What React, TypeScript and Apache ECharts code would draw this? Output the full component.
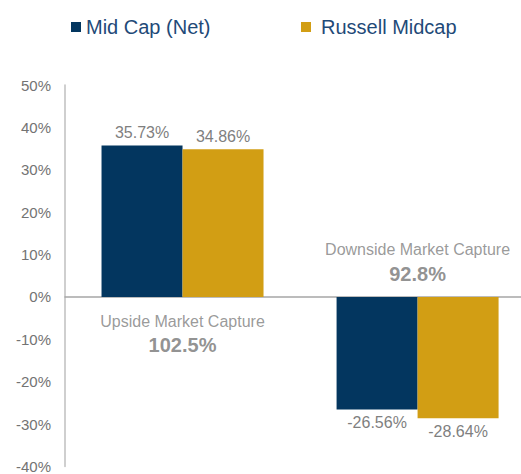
import React, { useEffect, useRef } from "react";
import * as echarts from "echarts";

const categories = ["Upside", "Downside"];
const midCapNet = [35.73, -26.56];
const russellMidcap = [34.86, -28.64];
const captureTitles = ["Upside Market Capture", "Downside Market Capture"];
const captureValues = ["102.5%", "92.8%"];
const captureLabelY = [-8.6, 8.3];
const yMin = -40;
const yMax = 50;
const yInterval = 10;

const FONT = "'Liberation Sans', Arial, sans-serif";

function barData(values: number[]) {
  return values.map((v, i) => ({
    value: [i, v],
    label: { position: v < 0 ? "bottom" : "top" },
  }));
}

export default function App() {
  const ref = useRef<HTMLDivElement>(null);
  useEffect(() => {
    if (!ref.current) return;
    const chart = echarts.init(ref.current, undefined, { renderer: "svg" });
    const labelCommon = {
      show: true,
      formatter: (p: any) => p.value[1].toFixed(2) + "%",
      color: "#7f7f7f",
      fontSize: 16,
      fontFamily: FONT,
      distance: 5,
    };
    chart.setOption({
      animation: false,
      textStyle: { fontFamily: FONT },
      legend: [
        {
          data: ["Mid Cap (Net)"],
          left: 71,
          top: 17,
          padding: 0,
          itemWidth: 10,
          itemHeight: 10,
          icon: "rect",
          textStyle: { color: "#1f4a78", fontSize: 20, fontFamily: FONT },
        },
        {
          data: ["Russell Midcap"],
          left: 301,
          top: 17,
          padding: 0,
          itemWidth: 10,
          itemHeight: 10,
          icon: "rect",
          formatter: "{a|{name}}",
          textStyle: {
            color: "#1f4a78",
            fontSize: 20,
            fontFamily: FONT,
            rich: {
              a: { padding: [0, 0, 0, 5], color: "#1f4a78", fontSize: 20, fontFamily: FONT },
            },
          },
        },
      ],
      grid: { left: 65, top: 85, right: 0, bottom: 4.5, containLabel: false },
      xAxis: {
        type: "value",
        min: -0.5,
        max: 1.44,
        axisLine: { show: true, onZero: true, lineStyle: { color: "#a6a6a6", width: 1.5 } },
        axisTick: { show: false },
        axisLabel: { show: false },
        splitLine: { show: false },
      },
      yAxis: {
        type: "value",
        min: yMin,
        max: yMax,
        interval: yInterval,
        axisLine: { show: true, onZero: false, lineStyle: { color: "#bfbfbf", width: 1.5 } },
        axisTick: { show: false },
        splitLine: { show: false },
        axisLabel: {
          formatter: "{value}%",
          color: "#737373",
          fontSize: 15,
          fontFamily: FONT,
          margin: 14,
        },
      },
      series: [
        {
          name: "Mid Cap (Net)",
          type: "bar",
          data: barData(midCapNet),
          barWidth: 81,
          barGap: "0%",
          itemStyle: { color: "#03365f" },
          label: labelCommon,
        },
        {
          name: "Russell Midcap",
          type: "bar",
          data: barData(russellMidcap),
          barWidth: 81,
          barGap: "0%",
          itemStyle: { color: "#d29e14" },
          label: labelCommon,
        },
        {
          name: "Capture",
          type: "scatter",
          symbolSize: 0,
          silent: true,
          z: 10,
          data: categories.map((c, i) => ({
            name: c,
            value: [i, captureLabelY[i]],
            label: {
              show: true,
              position: "inside",
              formatter: `{a|${captureTitles[i]}}\n{b|${captureValues[i]}}`,
              rich: {
                a: { fontSize: 16, color: "#7f7f7f", fontFamily: FONT, lineHeight: 24, align: "center" },
                b: {
                  fontSize: 20,
                  fontWeight: "bold",
                  color: "#767676",
                  fontFamily: FONT,
                  lineHeight: 24,
                  align: "center",
                },
              },
            },
          })),
        },
      ],
    });
    return () => chart.dispose();
  }, []);
  return (
    <div
      ref={ref}
      style={{ position: "fixed", left: 0, top: 0, width: 521, height: 474, background: "#fff" }}
    />
  );
}
